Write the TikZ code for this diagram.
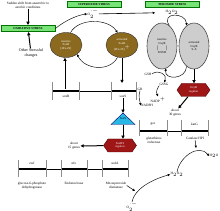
\documentclass[tikz,border=0pt]{standalone}
\usepackage{fontspec}
\setmainfont{Liberation Serif}
\usetikzlibrary{shapes.geometric,shapes.symbols,arrows.meta}
\definecolor{soxbrown}{RGB}{139,106,32}
\definecolor{oxygrey}{RGB}{205,205,205}
\definecolor{stressgreen}{RGB}{120,228,120}
\definecolor{regred}{RGB}{158,22,22}
\definecolor{soxcyan}{RGB}{40,182,228}

\begin{document}
\begin{tikzpicture}[
        x=1pt, y=-1pt,
        every node/.style={align=center, inner sep=0.3pt, font=\fontsize{3.4}{3.9}\selectfont},
        stressbox/.style={draw=green!45!black, line width=0.6pt, fill=stressgreen, minimum width=54pt, minimum height=6.5pt, font=\fontsize{3}{3.4}\selectfont\bfseries},
        soxcell/.style={ellipse, draw=black!80, line width=0.4pt, fill=soxbrown, text=white, minimum width=32pt, minimum height=25pt, font=\fontsize{3}{3.5}\selectfont},
        oxycell/.style={ellipse, draw=black!70, line width=0.6pt, fill=oxygrey, minimum width=30pt, minimum height=46pt, font=\fontsize{3}{3.5}\selectfont},
        regulon/.style={signal, signal to=west and east, signal pointer angle=110, draw=red!30!black, fill=regred, text=white, minimum width=33pt, minimum height=13pt, font=\fontsize{3}{3.5}\selectfont},
        protein/.style={minimum width=24pt, minimum height=11.5pt, font=\fontsize{3}{3.5}\selectfont, text depth=-3pt},
        genebar/.style={line width=1.6pt},
        genetick/.style={draw=black!45, line width=0.4pt},
        bigarrow/.style={-{Triangle[length=3.2pt,width=3.2pt]}, line width=1pt},
        thinarrow/.style={-{Triangle[length=2.4pt,width=2.2pt]}, line width=0.45pt}
    ]
    \useasboundingbox (0,0) rectangle (220,211);

    \node (shift) at (28,5) {Sudden shift from anaerobic to\\aerobic conditions};
    \node[stressbox] (oxstress) at (28,28.5) {OXIDATIVE STRESS};
    \node[font=\fontsize{4}{4.6}\selectfont] (other) at (31,53) {Other Stressful\\changes};
    \node[stressbox] (supstress) at (94,4.5) {SUPEROXIDE STRESS};
    \node[stressbox] (perstress) at (172.5,4.5) {PEROXIDE STRESS};
    \node (supox) at (93,14) {O$_2^{\cdot-}$};
    \node (hperox) at (172,12.5) {H$_2$O$_2$};

    \node[soxcell] (soxoff) at (66,45) {inactive\\SoxR\\{[}2Fe-2S{]}};
    \node[soxcell] (soxon) at (122,45) {activated\\SoxR\\{[}2Fe-2S{]}$^+$};
    \node[oxycell] (oxyoff) at (162,46) {inactive\\OxyR\\$|\;\;\;|$\\SH\,SH};
    \node[oxycell] (oxyon) at (194,46) {activated\\OxyR\\S--S};

    \draw[bigarrow] (shift) -- (oxstress);
    \draw[bigarrow] (other) -- (oxstress);
    \draw[thinarrow] (oxstress.east) .. controls (66,20) and (78,15) .. (supox.west);
    \draw[thinarrow, line width=0.6pt, shorten >=10pt] (supox) -- (hperox);
    \draw[thinarrow] (soxoff.70) .. controls (78,18) and (108,18) .. (soxon.110);
    \draw[thinarrow] (soxon.250) .. controls (110,72) and (85,70) .. (soxoff.-40);
    \draw[thinarrow] (oxyoff.70) .. controls (160,12) and (186,12) .. (oxyon.110);
    \draw[thinarrow] (oxyon.250) .. controls (186,80) and (164,80) .. (oxyoff.-80);

    \draw[line width=0.5pt] (79,91) -- (111,91);
    \draw[genebar] (52,91) -- (79,91);
    \draw[genebar] (111,91) -- (136,91);
    \foreach \x in {52,79,111,136}
        \draw[genetick] (\x,82) -- (\x,100);
    \node (soxR) at (66,96) {soxR};
    \node (soxS) at (123,96) {soxS};
    \coordinate (soxRgene) at (65,89);
    \coordinate (soxSgene) at (122,83);
    \draw[bigarrow] (soxRgene) -- (soxRgene |- soxoff.south);
    \draw[bigarrow] (soxon.south) -- (soxSgene);

    \node (gsh) at (148,74) {GSH};
    \node (gssg) at (164,84) {GSSG};
    \node (grd) at (140,89) {GR};
    \node (nadp) at (158,99.5) {NADP$^+$};
    \node (nadph) at (147,105.5) {NADPH};
    \draw[thinarrow] (gsh.east) .. controls (158,69) and (168,75) .. (gssg.north);
    \draw[thinarrow] (grd.south) .. controls (138,97) and (140,101) .. (nadph.west);
    \draw[thinarrow] (gssg.south west) .. controls (155,92) and (157,94) .. (nadp.north);

    \draw[draw=blue!40!black, fill=soxcyan, line width=0.4pt] (111,124.5) -- (123,113) -- (135,124.5) -- cycle;
    \node[protein] (soxSprot) at (123,118.75) {SoxS};
    \node[regulon] (soxreg) at (120,145.5) {SoxRS\\regulon};
    \draw[bigarrow] (soxS) -- (soxSprot);
    \draw[bigarrow] (soxSprot.south) -- (soxSprot.south |- soxreg.north);
    \node (fifteen) at (74,146) {about\\15 genes};
    \draw[bigarrow] (soxreg) -- (fifteen);

    \draw[line width=0.5pt] (18,169) -- (128,169);
    \foreach \a/\b/\g in {18/46/zwf,61/87/nfo,102/128/sodA}{
        \draw[genebar] (\a,169) -- (\b,169);
        \draw[genetick] (\a,160) -- (\a,177);
        \draw[genetick] (\b,160) -- (\b,177);
        \node (\g) at ({(\a+\b)/2},163.5) {\g};
    }
    \node (g6pd) at (32,185.5) {glucose-6-phosphate\\dehydrogenase};
    \node (endo) at (74,183.5) {Endonuclease};
    \node (mnsod) at (116,185.5) {Mn superoxide\\dismutase};

    \node[regulon] (oxyreg) at (193.5,90) {OxyR\\regulon};
    \draw[bigarrow] (oxyon.south) -- (oxyon.south |- oxyreg.north);
    \node (thirty) at (175,112.5) {about\\30 genes};
    \draw[bigarrow] (oxyreg) -- (thirty);

    \draw[line width=0.5pt] (139,131) -- (208,131);
    \foreach \a/\b/\g in {139/167/gor,181/208/katG}{
        \draw[genebar] (\a,131) -- (\b,131);
        \draw[genetick] (\a,120) -- (\a,136);
        \draw[genetick] (\b,120) -- (\b,136);
        \node (\g) at ({(\a+\b)/2},124) {\g};
    }
    \node (gred) at (154,140.5) {glutathione\\reductase};
    \node (cat) at (195,138.5) {Catalase HPI};

    \node (supox2) at (132,207) {O$_2^{\cdot-}$};
    \node (hperox2) at (177,174.5) {H$_2$O$_2$};
    \node (water) at (214,156) {H$_2$O};
    \coordinate (sodhit) at (135,191);
    \coordinate (cathit) at (196,148);
    \draw[thinarrow] (supox2.north) .. controls (134,190) and (150,180) .. (hperox2.west);
    \draw[thinarrow] (hperox2.north) .. controls (179,158) and (198,143) .. (water.west);
    \draw[thinarrow] (mnsod.east) -- (sodhit);
    \draw[thinarrow] (cat) -- (cathit);
\end{tikzpicture}
\end{document}
